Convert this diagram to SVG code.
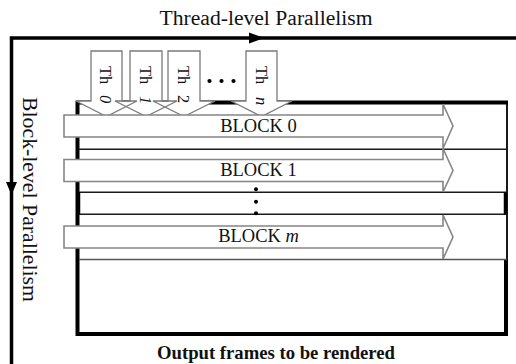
<svg xmlns="http://www.w3.org/2000/svg" width="516" height="364" viewBox="0 0 516 364">
  <style>
    .serif { font-family: "Liberation Serif", "Times New Roman", serif; fill: #111; }
    .block { fill: #fff; stroke: #858585; stroke-width: 1.6; stroke-linejoin: miter; }
    .thread { fill: #fff; stroke: #7a7a7a; stroke-width: 1.3; stroke-linejoin: miter; }
    .axis { stroke: #000; stroke-width: 3.5; fill: none; }
    .band { stroke: #1a1a1a; stroke-width: 1.5; }
    .lbl { font-size: 18.5px; text-anchor: middle; }
    .th { font-size: 16.5px; }
    .dot { fill: #000; }
  </style>
  <defs>
    <marker id="tri" viewBox="0 0 10 10" refX="5" refY="5" markerWidth="4" markerHeight="3.4" orient="auto" markerUnits="strokeWidth">
      <path d="M0,0 L10,5 L0,10 Z" fill="#000"/>
    </marker>
  </defs>

  <rect width="516" height="364" fill="#fff"/>

  <!-- axis labels -->
  <text class="serif" x="266" y="25" font-size="20.5" text-anchor="middle" textLength="213" lengthAdjust="spacingAndGlyphs">Thread-level Parallelism</text>
  <text class="serif" transform="translate(23,97) rotate(90)" font-size="21" textLength="205" lengthAdjust="spacingAndGlyphs">Block-level Parallelism</text>

  <!-- axis arrows -->
  <g id="connectors">
    <path class="axis" d="M11.5,364 L11.5,38 L516,38"/>
    <path d="M249,32.5 L264,38 L249,43.5 Z" fill="#000"/>
    <path d="M6,182 L11.5,195 L17,182 Z" fill="#000"/>
  </g>

  <!-- stack of output frames -->
  <g id="frames">
    <path d="M507,103 L507,259" stroke="#000" stroke-width="1.8" fill="none"/>
    <path d="M506,259 L506,334 L77.5,334 L77.5,102.5 L508,102.5" stroke="#000" stroke-width="4" fill="none"/>
    <line class="band" x1="79" y1="149.3" x2="507" y2="149.3"/>
    <line class="band" x1="79" y1="192.3" x2="507" y2="192.3"/>
    <line class="band" x1="79" y1="214.3" x2="507" y2="214.3"/>
    <line x1="79" y1="259.5" x2="507" y2="259.5" stroke="#555" stroke-width="1.4"/>
    <line x1="505.5" y1="192.3" x2="505.5" y2="214.3" stroke="#000" stroke-width="3.5"/>
    <line x1="78.5" y1="192.3" x2="78.5" y2="214.3" stroke="#000" stroke-width="3.5"/>
  </g>

  <!-- thread arrows (fills first, then outlines so overlapping heads stay visible) -->
  <g id="thread-fills" fill="#fff" stroke="none">
    <path d="M91,51 L122,51 L122,101 L137,101 L106.5,116.5 L76,101 L91,101 Z"/>
    <path d="M130,51 L162,51 L162,101 L177,101 L146,116.5 L115,101 L130,101 Z"/>
    <path d="M168,51 L200,51 L200,101 L215,101 L184,116.5 L153,101 L168,101 Z"/>
    <path d="M246,51 L277,51 L277,101 L292,101 L261.5,116.5 L231,101 L246,101 Z"/>
  </g>
  <g id="thread-0">
    <path class="thread" fill="none" d="M91,51 L122,51 L122,101 L137,101 L106.5,116.5 L76,101 L91,101 Z" style="fill:none"/>
    <text class="serif th" transform="translate(100,66) rotate(90)">Th<tspan x="29" font-style="italic">0</tspan></text>
  </g>
  <g id="thread-1">
    <path class="thread" d="M130,51 L162,51 L162,101 L177,101 L146,116.5 L115,101 L130,101 Z" style="fill:none"/>
    <text class="serif th" transform="translate(140,66) rotate(90)">Th<tspan x="30" font-style="italic">1</tspan></text>
  </g>
  <g id="thread-2">
    <path class="thread" d="M168,51 L200,51 L200,101 L215,101 L184,116.5 L153,101 L168,101 Z" style="fill:none"/>
    <text class="serif th" transform="translate(178,66) rotate(90)">Th<tspan x="29">2</tspan></text>
  </g>
  <g id="thread-ellipsis">
    <circle class="dot" cx="209.5" cy="81" r="2.1"/>
    <circle class="dot" cx="221.5" cy="81" r="2.1"/>
    <circle class="dot" cx="233.5" cy="81" r="2.1"/>
  </g>
  <g id="thread-n">
    <path class="thread" d="M246,51 L277,51 L277,101 L292,101 L261.5,116.5 L231,101 L246,101 Z" style="fill:none"/>
    <text class="serif th" transform="translate(256,66) rotate(90)">Th<tspan x="31" font-style="italic">n</tspan></text>
  </g>

  <!-- block arrows -->
  <g id="block-0">
    <path class="block" d="M64,115 L443,115 L443,104 L453,126 L443,148.5 L443,137 L64,137 Z"/>
    <text class="serif lbl" x="258.5" y="132">BLOCK 0</text>
  </g>
  <g id="block-1">
    <path class="block" d="M64,159.5 L443,159.5 L443,148.5 L453,170.5 L443,192 L443,181.5 L64,181.5 Z"/>
    <text class="serif lbl" x="258.5" y="175.5">BLOCK 1</text>
  </g>
  <g id="block-ellipsis">
    <circle class="dot" cx="256" cy="189.3" r="2"/>
    <circle class="dot" cx="256" cy="201.7" r="2"/>
    <circle class="dot" cx="256" cy="213.3" r="2"/>
  </g>
  <g id="block-m">
    <path class="block" d="M64,226 L443,226 L443,215 L453,237 L443,259 L443,248 L64,248 Z"/>
    <text class="serif lbl" x="258.5" y="241.5">BLOCK <tspan font-style="italic">m</tspan></text>
  </g>

  <text class="serif" x="276" y="358.5" font-size="18.5" font-weight="bold" text-anchor="middle" textLength="238" lengthAdjust="spacingAndGlyphs">Output frames to be rendered</text>
</svg>
